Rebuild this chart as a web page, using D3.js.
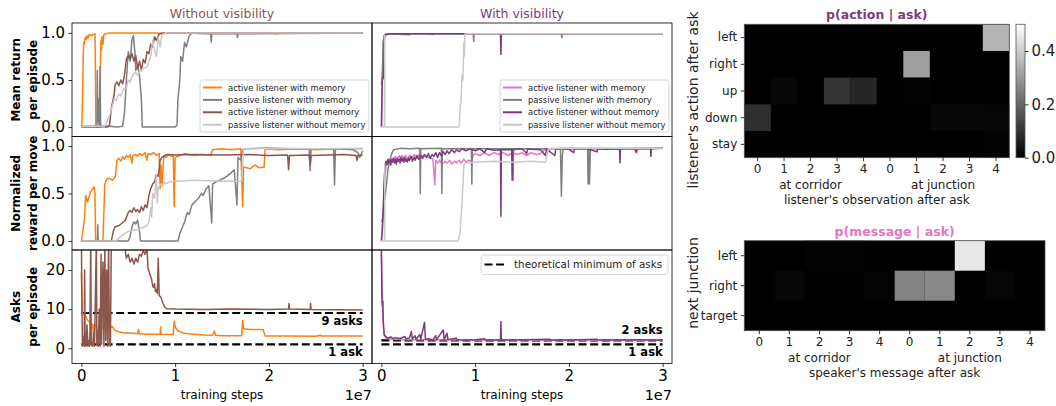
<!DOCTYPE html>
<html>
<head>
<meta charset="utf-8">
<script src="https://cdn.jsdelivr.net/npm/d3@7"></script>
<style>
body { margin:0; background:#fff; }
svg { font-family: "DejaVu Sans", sans-serif; }
</style>
</head>
<body>
<svg id="fig" width="1056" height="406"></svg>
<script>
// training steps in units of 1e7
var retWoActiveMem = [[0,0],[0.005,0.01],[0.012,0.3],[0.02,0.75],[0.025,0.9],[0.03,0.88],[0.04,0.95],[0.05,0.93],[0.06,0.97],[0.07,0.94],[0.08,0.98],[0.1,0.97],[0.12,0.98],[0.145,0.99],[0.15,0.6],[0.153,0.02],[0.17,0.0],[0.19,0.01],[0.2,0.3],[0.205,0.75],[0.21,0.92],[0.215,0.82],[0.22,0.96],[0.23,0.88],[0.24,0.98],[0.26,0.99],[0.3,1.0],[0.5,1.0],[0.8,1.0],[0.85,0.99],[1.0,1.0],[1.5,1.0],[1.52,0.99],[1.53,1.0],[2.0,1.0],[2.1,0.99],[2.11,1.0],[3.0,1.0]];
var retWoPassiveMem = [[0,0.01],[0.15,0.01],[0.165,0.0],[0.17,0.6],[0.175,0.05],[0.18,0.3],[0.19,0.01],[0.2,0.64],[0.205,0.02],[0.22,0.01],[0.3,0.01],[0.38,0.0],[0.44,0.01],[0.46,0.15],[0.48,0.5],[0.5,0.8],[0.52,0.7],[0.54,0.93],[0.555,0.97],[0.57,0.8],[0.58,0.6],[0.6,0.65],[0.62,0.55],[0.64,0.3],[0.65,0.0],[0.8,0.0],[1.0,0.0],[1.02,0.02],[1.03,0.3],[1.05,0.5],[1.06,0.75],[1.08,0.7],[1.1,0.9],[1.12,0.85],[1.15,0.97],[1.18,1.0],[1.3,0.99],[1.38,0.99],[1.385,0.9],[1.39,0.99],[1.66,0.99],[1.665,0.95],[1.67,0.99],[3,1.0]];
var retWoActiveNoMem = [[0,0],[0.28,0.0],[0.3,0.02],[0.32,0.2],[0.34,0.3],[0.35,0.35],[0.36,0.45],[0.38,0.48],[0.4,0.44],[0.42,0.5],[0.44,0.46],[0.46,0.55],[0.48,0.72],[0.5,0.76],[0.52,0.72],[0.54,0.78],[0.56,0.7],[0.58,0.76],[0.6,0.62],[0.62,0.7],[0.64,0.6],[0.66,0.72],[0.68,0.68],[0.7,0.8],[0.72,0.78],[0.74,0.88],[0.76,0.85],[0.78,0.96],[0.8,0.92],[0.83,0.99],[0.86,1.0],[3,1.0]];
var retWoPassiveNoMem = [[0,0.01],[0.2,0.01],[0.24,0.0],[0.27,0.05],[0.3,0.12],[0.33,0.22],[0.35,0.3],[0.37,0.28],[0.4,0.35],[0.42,0.33],[0.45,0.4],[0.48,0.42],[0.5,0.5],[0.52,0.48],[0.55,0.56],[0.58,0.58],[0.6,0.55],[0.63,0.6],[0.66,0.62],[0.7,0.64],[0.72,0.7],[0.74,0.75],[0.76,0.92],[0.78,0.82],[0.8,0.75],[0.82,0.95],[0.84,0.85],[0.86,0.98],[0.9,1.0],[3,1.0]];

var rewWoActiveMem = [[0,0],[0.03,0.2],[0.046,0.48],[0.064,0.41],[0.1,0.52],[0.135,0.57],[0.145,0.5],[0.152,0],[0.23,0.0],[0.24,0.3],[0.25,0.6],[0.27,0.65],[0.3,0.66],[0.33,0.64],[0.36,0.67],[0.37,0.75],[0.38,0.85],[0.4,0.87],[0.42,0.84],[0.44,0.89],[0.46,0.86],[0.48,0.9],[0.5,0.88],[0.52,0.91],[0.54,0.82],[0.55,0.9],[0.58,0.91],[0.6,0.89],[0.62,0.92],[0.65,0.9],[0.68,0.93],[0.7,0.85],[0.71,0.92],[0.74,0.91],[0.77,0.93],[0.8,0.9],[0.83,0.92],[0.84,0.55],[0.85,0.8],[0.86,0.58],[0.87,0.75],[0.88,0.9],[0.9,0.88],[0.93,0.91],[0.96,0.89],[0.98,0.9],[0.99,0.36],[1.0,0.88],[1.05,0.9],[1.1,0.92],[1.2,0.9],[1.3,0.91],[1.38,0.9],[1.4,0.96],[1.5,0.97],[1.6,0.96],[1.7,0.97],[1.72,0.36],[1.73,0.78],[1.8,0.76],[1.85,0.8],[1.9,0.77],[1.95,0.78],[1.96,0.97],[2.1,0.96],[2.3,0.97],[2.5,0.96],[2.7,0.97],[3,0.97]];
var rewWoPassiveMem = [[0,0],[0.17,0.0],[0.175,0.17],[0.18,0.0],[0.5,0.0],[0.52,0.05],[0.54,0.15],[0.56,0.2],[0.58,0.18],[0.6,0.22],[0.62,0.1],[0.63,0.0],[1.03,0.0],[1.05,0.08],[1.08,0.15],[1.1,0.2],[1.13,0.3],[1.15,0.28],[1.18,0.38],[1.22,0.42],[1.25,0.45],[1.28,0.5],[1.3,0.48],[1.33,0.55],[1.36,0.58],[1.39,0.19],[1.4,0.6],[1.45,0.63],[1.5,0.65],[1.55,0.68],[1.6,0.72],[1.63,0.75],[1.66,0.38],[1.67,0.88],[1.7,0.85],[1.72,0.96],[1.75,0.97],[2.0,0.98],[2.2,0.97],[2.43,0.97],[2.44,0.74],[2.45,0.97],[2.69,0.97],[2.7,0.59],[2.71,0.97],[2.9,0.96],[2.95,0.93],[2.97,0.88],[3,0.95]];
var rewWoActiveNoMem = [[0,0],[0.32,0.0],[0.34,0.1],[0.36,0.15],[0.4,0.16],[0.45,0.2],[0.47,0.22],[0.5,0.3],[0.52,0.32],[0.54,0.3],[0.56,0.35],[0.58,0.31],[0.6,0.33],[0.62,0.3],[0.64,0.36],[0.66,0.32],[0.68,0.38],[0.7,0.35],[0.72,0.48],[0.74,0.55],[0.76,0.6],[0.78,0.62],[0.8,0.7],[0.82,0.68],[0.84,0.85],[0.86,0.88],[0.89,0.9],[0.92,0.91],[1.0,0.905],[1.2,0.91],[1.5,0.905],[1.8,0.91],[2.0,0.9],[2.2,0.905],[2.21,0.75],[2.22,0.9],[2.43,0.905],[2.44,0.8],[2.45,0.9],[2.8,0.91],[2.93,0.9],[2.94,0.85],[2.95,0.9],[3,0.905]];
var rewWoPassiveNoMem = [[0,0],[0.37,0.0],[0.4,0.03],[0.45,0.07],[0.5,0.1],[0.55,0.11],[0.6,0.12],[0.65,0.14],[0.7,0.16],[0.72,0.2],[0.74,0.35],[0.75,0.25],[0.76,0.5],[0.78,0.45],[0.8,0.7],[0.81,0.4],[0.82,0.55],[0.84,0.6],[0.86,0.58],[0.88,0.62],[0.9,0.6],[0.93,0.62],[1.0,0.63],[1.2,0.64],[1.5,0.63],[1.71,0.63],[1.73,0.97],[2.0,0.975],[2.5,0.97],[3,0.975]];

var asksWoActiveMem = [[0,19.3],[0.01,9],[0.04,8.5],[0.06,7.4],[0.08,6.8],[0.1,6.5],[0.12,6.0],[0.13,3.5],[0.14,6.2],[0.16,5.5],[0.17,1.0],[0.18,4.8],[0.22,5.2],[0.26,5.5],[0.3,5.4],[0.33,5.5],[0.36,4.5],[0.4,4.2],[0.45,3.9],[0.5,3.9],[0.55,3.8],[0.6,3.7],[0.61,4.8],[0.62,3.7],[0.7,3.6],[0.84,3.6],[0.845,5.4],[0.85,3.6],[0.9,3.5],[0.98,3.5],[0.99,6.9],[1.0,5.5],[1.03,4.4],[1.1,3.8],[1.2,3.6],[1.3,3.4],[1.4,3.3],[1.42,4.4],[1.43,3.3],[1.5,3.2],[1.71,3.2],[1.72,7.1],[1.73,5.0],[1.8,4.8],[1.9,4.8],[1.94,4.7],[1.96,3.1],[2.2,3.1],[2.5,3.05],[2.55,3.3],[2.56,3.1],[3,3.1]];
var asksWoActiveNoMem = [[0,30],[0.005,12],[0.012,0.5],[0.02,3],[0.03,0.5],[0.035,20],[0.04,1],[0.05,0.5],[0.06,6],[0.07,0.5],[0.08,2],[0.09,0.5],[0.1,28],[0.105,1],[0.12,0.5],[0.13,4],[0.14,0.5],[0.16,28],[0.165,1],[0.18,0.5],[0.19,10],[0.2,0.5],[0.21,24],[0.215,1],[0.23,22],[0.24,0.5],[0.25,26],[0.26,2],[0.27,20],[0.28,0.5],[0.29,28],[0.3,1],[0.31,0.5],[0.32,30],[0.46,30],[0.47,24.5],[0.48,23],[0.5,24],[0.52,22],[0.54,23],[0.56,21.5],[0.58,23],[0.6,22],[0.62,24],[0.64,23.5],[0.66,25],[0.68,24],[0.7,25.5],[0.71,20.5],[0.73,19],[0.75,17.5],[0.76,16],[0.77,15.5],[0.78,16.5],[0.79,14.5],[0.8,15],[0.81,14],[0.82,23],[0.83,13.5],[0.85,13],[0.87,11.5],[0.89,10.5],[0.91,10.1],[1.0,10],[1.3,9.9],[1.6,10],[2.0,9.9],[2.21,10],[2.215,11.4],[2.22,10],[2.44,9.9],[2.445,11.4],[2.45,9.9],[3,9.8]];

var retWActiveMem = [[0,0],[0.005,0.05],[0.01,0.5],[0.02,0.9],[0.03,0.97],[0.05,0.98],[0.1,0.99],[0.5,0.99],[0.55,0.98],[0.56,0.99],[1.0,0.99],[3,0.99]];
var retWPassiveMem = [[0,0.45],[0.01,0.55],[0.02,0.9],[0.03,0.97],[0.05,0.99],[0.3,0.98],[0.31,0.99],[0.98,0.99],[0.985,0.91],[0.99,0.99],[1.92,0.99],[1.925,0.95],[1.93,0.99],[3,0.99]];
var retWActiveNoMem = [[0,0],[0.005,0.3],[0.01,0.5],[0.02,0.52],[0.025,0.6],[0.03,0.9],[0.04,0.98],[0.1,0.99],[1.27,0.99],[1.275,0.77],[1.28,0.99],[3,0.99]];
var retWPassiveNoMem = [[0.035,0.98],[0.036,0.4],[0.035,0.0],[0.0,0.0],[0.4,0.0],[0.82,0.0],[0.83,0.02],[0.84,0.2],[0.85,0.3],[0.86,0.55],[0.87,0.5],[0.88,0.9],[0.885,0.75],[0.89,0.98],[0.9,0.99],[1.0,0.99],[3,0.99]];

var rewWActiveMem = [[0,0],[0.01,0.15],[0.02,0.3],[0.03,0.55],[0.04,0.7],[0.05,0.8],[0.06,0.84],[0.07,0.82],[0.08,0.86],[0.1,0.83],[0.12,0.87],[0.13,0.85],[0.15,0.89],[0.17,0.86],[0.19,0.9],[0.2,0.87],[0.22,0.9],[0.24,0.87],[0.26,0.9],[0.28,0.86],[0.3,0.9],[0.33,0.88],[0.35,0.91],[0.38,0.87],[0.4,0.91],[0.43,0.88],[0.45,0.9],[0.5,0.88],[0.55,0.86],[0.57,0.59],[0.58,0.85],[0.6,0.82],[0.62,0.85],[0.65,0.81],[0.68,0.84],[0.7,0.82],[0.73,0.85],[0.75,0.81],[0.78,0.84],[0.8,0.82],[0.83,0.85],[0.85,0.82],[0.88,0.86],[0.9,0.83],[0.93,0.85],[0.96,0.84],[0.98,0.9],[1.0,0.92],[1.05,0.9],[1.1,0.93],[1.15,0.9],[1.2,0.93],[1.25,0.91],[1.3,0.93],[1.35,0.9],[1.4,0.93],[1.45,0.91],[1.5,0.93],[1.55,0.9],[1.6,0.93],[1.65,0.91],[1.7,0.92],[1.75,0.97],[2.0,0.975],[2.5,0.97],[3,0.975]];
var rewWPassiveMem = [[0,0.2],[0.01,0.22],[0.03,0.4],[0.05,0.55],[0.07,0.75],[0.09,0.85],[0.11,0.92],[0.13,0.96],[0.2,0.975],[0.3,0.97],[0.41,0.975],[0.415,0.5],[0.42,0.97],[0.64,0.975],[0.645,0.5],[0.65,0.97],[0.96,0.97],[0.965,0.6],[0.97,0.97],[1.4,0.97],[1.405,0.64],[1.41,0.97],[1.91,0.97],[1.92,0.47],[1.93,0.9],[1.94,0.97],[2.2,0.97],[2.205,0.6],[2.21,0.97],[2.22,0.6],[2.23,0.97],[3,0.975]];
var rewWActiveNoMem = [[0,0],[0.01,0.1],[0.02,0.35],[0.03,0.65],[0.04,0.8],[0.05,0.84],[0.06,0.8],[0.07,0.86],[0.08,0.82],[0.09,0.85],[0.1,0.8],[0.11,0.86],[0.12,0.83],[0.13,0.87],[0.14,0.82],[0.15,0.86],[0.16,0.81],[0.17,0.87],[0.18,0.84],[0.19,0.86],[0.2,0.82],[0.21,0.88],[0.22,0.84],[0.23,0.87],[0.24,0.83],[0.25,0.88],[0.26,0.84],[0.27,0.86],[0.28,0.83],[0.29,0.88],[0.3,0.85],[0.32,0.89],[0.33,0.84],[0.35,0.88],[0.36,0.85],[0.38,0.9],[0.4,0.86],[0.42,0.9],[0.44,0.87],[0.46,0.91],[0.48,0.88],[0.5,0.92],[0.52,0.87],[0.54,0.91],[0.56,0.89],[0.58,0.93],[0.6,0.88],[0.62,0.93],[0.64,0.9],[0.66,0.94],[0.68,0.91],[0.7,0.95],[0.72,0.92],[0.75,0.96],[0.78,0.93],[0.8,0.96],[0.83,0.94],[0.86,0.97],[0.9,0.95],[0.95,0.97],[1.0,0.95],[1.05,0.97],[1.1,0.93],[1.12,0.97],[1.2,0.955],[1.27,0.96],[1.275,0.26],[1.28,0.96],[1.39,0.96],[1.395,0.64],[1.4,0.96],[1.5,0.97],[1.55,0.92],[1.56,0.97],[1.6,0.965],[1.7,0.96],[1.75,0.9],[1.76,0.97],[1.85,0.9],[1.86,0.965],[2.0,0.97],[2.05,0.93],[2.06,0.97],[2.2,0.97],[2.3,0.94],[2.31,0.97],[2.4,0.965],[2.54,0.97],[2.545,0.82],[2.55,0.97],[2.7,0.97],[2.72,0.93],[2.73,0.97],[2.87,0.97],[2.875,0.89],[2.88,0.97],[3,0.975]];
var rewWPassiveNoMem = [[0.035,0.82],[0.036,0.4],[0.035,0.0],[0,0],[0.82,0],[0.84,0.1],[0.86,0.4],[0.87,0.6],[0.88,0.8],[0.9,0.82],[1.0,0.83],[1.2,0.84],[1.4,0.83],[1.6,0.84],[1.75,0.83],[1.78,0.97],[2.0,0.975],[3,0.975]];

var asksWActiveMem = [[0,24.5],[0.01,15],[0.02,6],[0.03,3.4],[0.05,2.6],[0.1,2.3],[0.3,2.2],[1,2.1],[3,2.05]];
var asksWActiveNoMem = [[0,26],[0.005,13],[0.01,10.7],[0.015,12],[0.02,7],[0.03,3.5],[0.05,2.8],[0.08,2.6],[0.1,2.9],[0.12,2.5],[0.15,2.7],[0.2,2.5],[0.25,3.0],[0.26,2.4],[0.3,2.7],[0.32,4.3],[0.33,2.4],[0.36,3.2],[0.37,2.3],[0.41,3.5],[0.42,2.3],[0.46,6.6],[0.47,2.3],[0.5,2.4],[0.55,2.2],[0.58,3.2],[0.59,2.2],[0.66,4.7],[0.67,2.2],[0.7,3.8],[0.71,2.2],[0.8,2.6],[0.81,2.2],[0.9,2.1],[1.0,2.15],[1.1,2.4],[1.11,2.1],[1.27,2.1],[1.275,6.8],[1.28,2.1],[1.5,2.15],[1.8,2.3],[1.81,2.1],[2.0,2.1],[2.3,2.3],[2.31,2.1],[2.5,2.1],[2.8,2.2],[2.81,2.1],[3,2.1]];

var seriesNames = ["active listener with memory","passive listener with memory","active listener without memory","passive listener without memory"];
var colorsWo = ["#ff7f0e","#7f7f7f","#8c564b","#c8c8c8"];
var colorsW = ["#e377c2","#7f7f7f","#7e3b7b","#c8c8c8"];
var minAsksWo = [9,1], minAsksW = [2,1];
var minAsksLabelsWo = ["9 asks","1 ask"], minAsksLabelsW = ["2 asks","1 ask"];
var xTicks = [0,1,2,3];
var rowLabels = [["Mean return","per episode"],["Normalized","reward per move"],["Asks","per episode"]];
var colTitles = ["Without visibility","With visibility"];

// heatmaps
var obsTicks = ["0","1","2","3","4","0","1","2","3","4"];
var obsGroups = ["at corridor","at junction"];
var actionRows = ["left","right","up","down","stay"];
var pAction = [
  [0,0,0,0,0,0,0,0,0,0.353],
  [0,0,0,0,0,0,0.314,0,0,0],
  [0,0.012,0,0.1,0.075,0,0.006,0,0,0],
  [0.092,0,0,0,0,0,0,0.014,0.011,0.009],
  [0,0,0,0,0,0,0,0,0,0.006]];
var messageRows = ["left","right","target"];
var pMessage = [
  [0,0,0.003,0.003,0,0,0,0.455,0,0],
  [0,0.012,0,0,0.007,0.257,0.266,0,0.01,0],
  [0,0,0,0,0,0,0,0,0,0]];
var cbTicks = [0,0.2,0.4];

var svg = d3.select("#fig");
svg.append("rect").attr("width",1056).attr("height",406).attr("fill","#fff");
var FONT = "DejaVu Sans";
var cols = [{x0:72,x1:372,colors:colorsWo,title:"#8c564b"},{x0:372,x1:672,colors:colorsW,title:"#7e3b7b"}];
var rows = [{y0:23,y1:136.5,dom:[-0.1,1.105],ticks:[0,0.5,1],fmt:d3.format(".1f")},
            {y0:136.5,y1:250,dom:[-0.095,1.1],ticks:[0,0.5,1],fmt:d3.format(".1f")},
            {y0:250,y1:363.5,dom:[-3.9,25.1],ticks:[0,10,20],fmt:d3.format("d")}];
var xDomain = [-0.1,3.1];

var panels = [
  {c:0,r:0,data:[retWoActiveMem,retWoPassiveMem,retWoActiveNoMem,retWoPassiveNoMem],idx:[0,1,2,3],legend:true},
  {c:0,r:1,data:[rewWoActiveMem,rewWoPassiveMem,rewWoActiveNoMem,rewWoPassiveNoMem],idx:[0,1,2,3]},
  {c:0,r:2,data:[asksWoActiveMem,asksWoActiveNoMem],idx:[0,2],mins:minAsksWo,minLabels:minAsksLabelsWo},
  {c:1,r:0,data:[retWActiveMem,retWPassiveMem,retWActiveNoMem,retWPassiveNoMem],idx:[0,1,2,3],legend:true},
  {c:1,r:1,data:[rewWActiveMem,rewWPassiveMem,rewWActiveNoMem,rewWPassiveNoMem],idx:[0,1,2,3]},
  {c:1,r:2,data:[asksWActiveMem,asksWActiveNoMem],idx:[0,2],mins:minAsksW,minLabels:minAsksLabelsW,minLegend:true}
];

function styleAxis(ax, size) {
  ax.attr("font-family",FONT).attr("font-size",size);
  ax.select(".domain").remove();
  ax.selectAll("line").attr("stroke","#000").attr("stroke-width",0.8);
  ax.selectAll("text").attr("fill","#000");
}

panels.forEach(function(p){
  var c = cols[p.c], r = rows[p.r];
  var x = d3.scaleLinear().domain(xDomain).range([c.x0,c.x1]);
  var y = d3.scaleLinear().domain(r.dom).range([r.y1,r.y0]);
  var id = "clip"+p.c+p.r;
  svg.append("clipPath").attr("id",id).append("rect")
    .attr("x",c.x0).attr("y",r.y0).attr("width",c.x1-c.x0).attr("height",r.y1-r.y0);
  var g = svg.append("g").attr("clip-path","url(#"+id+")");
  var line = d3.line().x(function(d){return x(d[0]);}).y(function(d){return y(d[1]);});
  if (p.mins) {
    g.selectAll("line.min").data(p.mins).join("line")
      .attr("x1",x(0)).attr("x2",x(3)).attr("y1",function(d){return y(d);}).attr("y2",function(d){return y(d);})
      .attr("stroke","#000").attr("stroke-width",2.2).attr("stroke-dasharray","8,3.6");
  }
  p.data.forEach(function(d,i){
    g.append("path").datum(d).attr("d",line).attr("fill","none")
      .attr("stroke",c.colors[p.idx[i]]).attr("stroke-width",1.5).attr("stroke-linejoin","round");
  });
  if (p.mins) {
    p.mins.forEach(function(m,i){
      var above = (p.c===1 && i===0);
      svg.append("text").attr("x",x(3)).attr("y",y(m)+(above?-6.5:11.5))
        .attr("text-anchor","end").attr("font-family",FONT).attr("font-weight","bold")
        .attr("font-size",11.5).text(p.minLabels[i]);
    });
  }
  svg.append("rect").attr("x",c.x0).attr("y",r.y0).attr("width",c.x1-c.x0).attr("height",r.y1-r.y0)
    .attr("fill","none").attr("stroke","#000").attr("stroke-width",0.8);
  if (p.c===0) {
    var ay = svg.append("g").attr("transform","translate("+c.x0+",0)")
      .call(d3.axisLeft(y).tickValues(r.ticks).tickFormat(r.fmt).tickSize(3.5).tickPadding(3.5));
    styleAxis(ay,15);
    var cy = (r.y0+r.y1)/2;
    rowLabels[p.r].forEach(function(t,k){
      svg.append("text").attr("transform","translate("+(20+k*16.5)+","+cy+") rotate(-90)")
        .attr("text-anchor","middle").attr("font-family",FONT).attr("font-weight","bold")
        .attr("font-size",12).text(t);
    });
  }
  if (p.r===2) {
    var axx = svg.append("g").attr("transform","translate(0,"+r.y1+")")
      .call(d3.axisBottom(x).tickValues(xTicks).tickFormat(d3.format("d")).tickSize(3.5).tickPadding(3));
    styleAxis(axx,15);
    svg.append("text").attr("x",(c.x0+c.x1)/2).attr("y",399).attr("text-anchor","middle")
      .attr("font-family",FONT).attr("font-size",12).text("training steps");
    svg.append("text").attr("x",c.x1).attr("y",400).attr("text-anchor","end")
      .attr("font-family",FONT).attr("font-size",14.5).text("1e7");
  }
  if (p.r===0) {
    svg.append("text").attr("x",(c.x0+c.x1)/2).attr("y",17.5).attr("text-anchor","middle")
      .attr("font-family",FONT).attr("font-size",12.5).attr("fill",c.title).text(colTitles[p.c]);
  }
  if (p.legend) {
    var lx = c.x1-172, ly = 80;
    var lg = svg.append("g");
    lg.append("rect").attr("x",lx).attr("y",ly).attr("width",169).attr("height",52).attr("rx",2.5)
      .attr("fill","#fff").attr("fill-opacity",0.8).attr("stroke","#cccccc").attr("stroke-width",0.8);
    seriesNames.forEach(function(n,i){
      var yy = ly+7.5+i*12.4;
      lg.append("line").attr("x1",lx+3).attr("x2",lx+22).attr("y1",yy).attr("y2",yy)
        .attr("stroke",c.colors[i]).attr("stroke-width",2);
      lg.append("text").attr("x",lx+28).attr("y",yy+3).attr("font-family",FONT).attr("font-size",8.4)
        .attr("fill","#222").text(n);
    });
  }
  if (p.minLegend) {
    var mx = 481, my = 255;
    svg.append("rect").attr("x",mx).attr("y",my).attr("width",187).attr("height",19.5).attr("rx",2.5)
      .attr("fill","#fff").attr("fill-opacity",0.8).attr("stroke","#cccccc").attr("stroke-width",0.8);
    svg.append("line").attr("x1",mx+3.5).attr("x2",mx+23).attr("y1",my+9.5).attr("y2",my+9.5)
      .attr("stroke","#000").attr("stroke-width",2.2).attr("stroke-dasharray","8,3.6");
    svg.append("text").attr("x",mx+33).attr("y",my+13.3).attr("font-family",FONT).attr("font-size",10.4)
      .attr("fill","#222").text("theoretical minimum of asks");
  }
});

// heatmaps
var vmax = 0.5;
var gray = d3.scaleLinear().domain([0,vmax]).range(["#000","#fff"]).clamp(true);
var heatmaps = [
  {x0:744.3,x1:1009.3,y0:24.3,y1:157.7,rows:actionRows,values:pAction,title:"p(action | ask)",titleColor:"#7e3b7b",
   xlabel:"listener's observation after ask",ylabel:"listener's action after ask",ylabelY:100},
  {x0:744.3,x1:1045,y0:240.7,y1:330.7,rows:messageRows,values:pMessage,title:"p(message | ask)",titleColor:"#e377c2",
   xlabel:"speaker's message after ask",ylabel:"next junction",ylabelY:283}
];
heatmaps.forEach(function(h){
  var x = d3.scaleBand().domain(d3.range(obsTicks.length)).range([h.x0,h.x1]);
  var y = d3.scaleBand().domain(h.rows).range([h.y0,h.y1]);
  var cells = [];
  h.values.forEach(function(rv,ri){ rv.forEach(function(v,ci){ cells.push({r:h.rows[ri],c:ci,v:v}); }); });
  svg.append("rect").attr("x",h.x0).attr("y",h.y0).attr("width",h.x1-h.x0).attr("height",h.y1-h.y0)
    .attr("fill",gray(0));
  svg.append("g").selectAll("rect").data(cells.filter(function(d){return d.v>0;})).join("rect")
    .attr("x",function(d){return x(d.c);}).attr("y",function(d){return y(d.r);})
    .attr("width",x.bandwidth()).attr("height",y.bandwidth())
    .attr("fill",function(d){return gray(d.v);});
  svg.append("rect").attr("x",h.x0).attr("y",h.y0).attr("width",h.x1-h.x0).attr("height",h.y1-h.y0)
    .attr("fill","none").attr("stroke","#555").attr("stroke-width",0.8);
  var ay = svg.append("g").attr("transform","translate("+h.x0+",0)")
    .call(d3.axisLeft(y).tickSize(3.5).tickPadding(3.5));
  styleAxis(ay,12); ay.selectAll("text").attr("fill","#222");
  var ax = svg.append("g").attr("transform","translate(0,"+h.y1+")")
    .call(d3.axisBottom(x).tickFormat(function(i){return obsTicks[i];}).tickSize(3.5).tickPadding(3));
  styleAxis(ax,12); ax.selectAll("text").attr("fill","#222");
  [2,7].forEach(function(ci,k){
    svg.append("text").attr("x",x(ci)+x.bandwidth()/2).attr("y",h.y1+31).attr("text-anchor","middle")
      .attr("font-family",FONT).attr("font-size",12).attr("fill","#222").text(obsGroups[k]);
  });
  svg.append("text").attr("x",(h.x0+h.x1)/2).attr("y",h.y1+46.5).attr("text-anchor","middle")
    .attr("font-family",FONT).attr("font-size",12).attr("fill","#222").text(h.xlabel);
  svg.append("text").attr("transform","translate(698,"+h.ylabelY+") rotate(-90)")
    .attr("text-anchor","middle").attr("font-family",FONT).attr("font-size",14).attr("fill","#222").text(h.ylabel);
  svg.append("text").attr("x",(h.x0+h.x1)/2).attr("y",h.y0-5).attr("text-anchor","middle")
    .attr("font-family",FONT).attr("font-weight","bold").attr("font-size",12.5).attr("fill",h.titleColor).text(h.title);
});

// colorbar
var cb = {x0:1016,x1:1025,y0:24.3,y1:157.7};
var grad = svg.append("defs").append("linearGradient").attr("id","cbgrad")
  .attr("x1",0).attr("y1",1).attr("x2",0).attr("y2",0);
grad.append("stop").attr("offset","0%").attr("stop-color",gray(0));
grad.append("stop").attr("offset","100%").attr("stop-color",gray(vmax));
svg.append("rect").attr("x",cb.x0).attr("y",cb.y0).attr("width",cb.x1-cb.x0).attr("height",cb.y1-cb.y0)
  .attr("fill","url(#cbgrad)").attr("stroke","#555").attr("stroke-width",0.8);
var cbScale = d3.scaleLinear().domain([0,vmax]).range([cb.y1,cb.y0]);
var cbAx = svg.append("g").attr("transform","translate("+cb.x1+",0)")
  .call(d3.axisRight(cbScale).tickValues(cbTicks).tickFormat(d3.format(".1f")).tickSize(3.5).tickPadding(3));
styleAxis(cbAx,15); cbAx.selectAll("text").attr("fill","#222");
</script>
</body>
</html>
